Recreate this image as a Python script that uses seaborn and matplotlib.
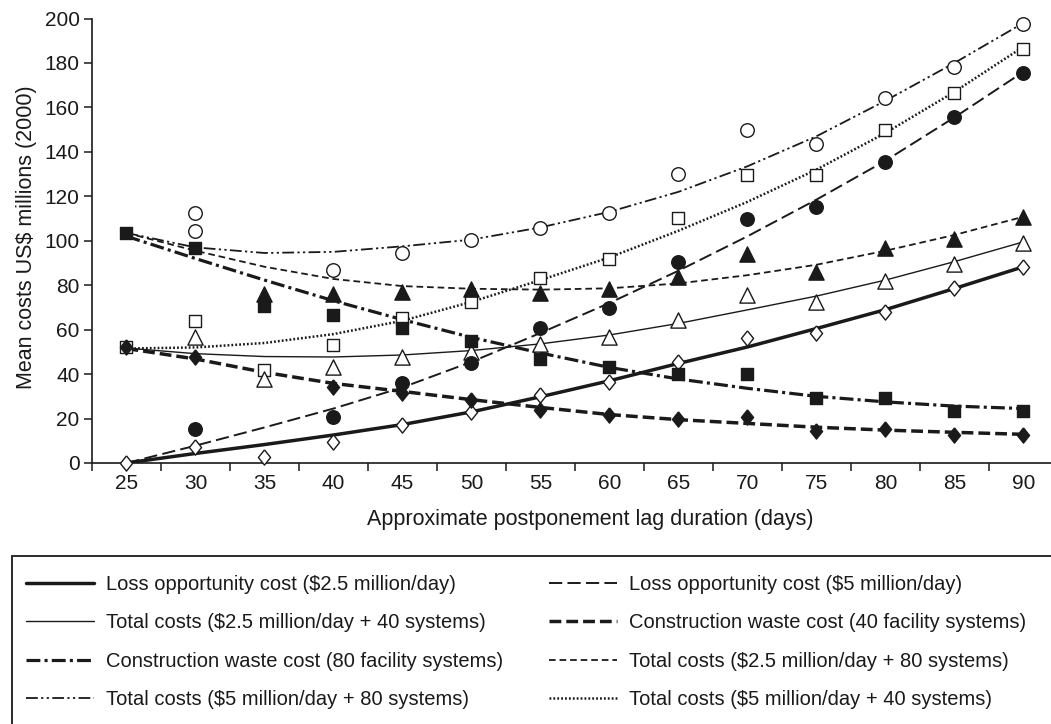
import numpy as np
import matplotlib
matplotlib.use("Agg")
import matplotlib.pyplot as plt
import seaborn as sns
from matplotlib.lines import Line2D
from matplotlib.patches import Rectangle

nan = np.nan

# ---------------- data ----------------
days = [25, 30, 35, 40, 45, 50, 55, 60, 65, 70, 75, 80, 85, 90]

# observed points (markers)
loss25_pts     = [0, 7.3, 2.8, 9.6, 17.1, 23.1, 30.6, 36.3, 45.6, 56.1, 58.3, 68.1, 78.6, 88.3]
loss5_pts      = [nan, 15.2, nan, 20.8, 36.0, 45.1, 60.6, 69.9, 90.6, 109.8, 115.3, 135.6, 155.5, 175.6]
total25_40_pts = [nan, 56.8, 37.6, 43.3, 47.8, 50.1, 53.5, 56.5, 64.3, 75.6, 72.3, 82.0, 89.5, 99.1]
waste40_pts    = [52.0, 47.5, nan, 34.0, 31.3, 28.3, 23.8, 21.6, 19.6, 20.8, 14.4, 15.3, 12.6, 12.6]
waste80_pts    = [103.5, 96.6, 70.6, 66.6, 60.6, 55.0, 46.6, 43.0, 40.0, 40.0, 29.1, 29.1, 23.5, 23.5]
total25_80_pts = [nan, nan, 76.0, 76.0, 77.1, 78.1, 76.3, 78.1, 83.8, 94.0, 86.1, 96.9, 100.6, 110.5]
total5_80_pts  = [nan, 104.5, nan, 86.8, 94.3, 100.3, 105.9, 112.3, 130.0, 149.8, 143.5, 164.1, 178.3, 197.4]
total5_80_extra_x = [30]
total5_80_extra_y = [112.3]
total5_40_pts  = [52.0, 64.0, 41.8, 53.1, 65.1, 72.6, 83.4, 91.6, 110.1, 129.6, 129.6, 149.8, 166.6, 186.3]

# trend lines
loss25_fit     = [0, 4.3, 8.3, 12.6, 17.3, 23.0, 29.8, 37.0, 44.8, 52.2, 60.5, 69.0, 78.5, 88.3]
loss5_fit      = [0, 7.8, 16.0, 24.5, 34.0, 45.5, 58.5, 72.0, 86.5, 102.0, 118.5, 136.0, 155.5, 176.0]
total25_40_fit = [51.7, 49.2, 47.9, 47.7, 48.6, 50.6, 53.6, 57.6, 62.8, 68.9, 75.1, 82.3, 90.6, 99.5]
waste40_fit    = [51.5, 46.8, 40.8, 35.8, 32.2, 28.5, 25.0, 21.8, 19.5, 17.8, 16.1, 14.8, 13.8, 12.9]
waste80_fit    = [102.0, 92.0, 82.3, 73.0, 64.5, 56.5, 49.5, 43.0, 37.8, 33.6, 30.0, 27.5, 25.6, 24.5]
total25_80_fit = [103.5, 95.5, 88.3, 82.8, 79.6, 78.4, 78.0, 78.6, 80.8, 84.5, 89.2, 95.5, 102.6, 110.8]
total5_80_fit  = [103.5, 97.0, 94.5, 95.0, 97.5, 100.5, 106.0, 113.0, 122.0, 133.5, 147.0, 163.0, 180.0, 198.0]
total5_40_fit  = [51.5, 52.0, 54.0, 58.0, 64.0, 72.5, 82.3, 92.5, 104.5, 117.5, 132.0, 148.5, 167.0, 187.3]

labels = {
    "loss25": "Loss opportunity cost ($2.5 million/day)",
    "loss5": "Loss opportunity cost ($5 million/day)",
    "total25_40": "Total costs ($2.5 million/day + 40 systems)",
    "waste40": "Construction waste cost (40 facility systems)",
    "waste80": "Construction waste cost (80 facility systems)",
    "total25_80": "Total costs ($2.5 million/day + 80 systems)",
    "total5_80": "Total costs ($5 million/day + 80 systems)",
    "total5_40": "Total costs ($5 million/day + 40 systems)",
}

# ---------------- style ----------------
sns.set_style("ticks")
plt.rcParams["font.family"] = ["Liberation Sans", "DejaVu Sans"]
plt.rcParams["lines.scale_dashes"] = False
INK = "#1a1a1a"

W, H = 1051, 724
fig = plt.figure(figsize=(W / 100, H / 100), dpi=100)
ax = fig.add_axes([92 / W, (H - 463) / H, (W - 92) / W, 444.5 / H])

line_styles = {
    "loss25":     dict(lw=2.5, ls="-"),
    "loss5":      dict(lw=1.4, ls=(0, (9.5, 3.8))),
    "total25_40": dict(lw=1.0, ls="-"),
    "waste40":    dict(lw=2.5, ls=(0, (8.5, 3.6))),
    "waste80":    dict(lw=2.3, ls=(0, (10, 3, 2.2, 3))),
    "total25_80": dict(lw=1.3, ls=(0, (4.8, 2.8))),
    "total5_80":  dict(lw=1.3, ls=(0, (8.5, 2.4, 1.6, 2.4, 1.6, 2.4))),
    "total5_40":  dict(lw=1.8, ls=(0, (1.3, 1.5))),
}

fits = {
    "loss25": loss25_fit, "loss5": loss5_fit, "total25_40": total25_40_fit,
    "waste40": waste40_fit, "waste80": waste80_fit, "total25_80": total25_80_fit,
    "total5_80": total5_80_fit, "total5_40": total5_40_fit,
}

for key, vals in fits.items():
    st = line_styles[key]
    sns.lineplot(x=days, y=vals, ax=ax, color=INK, linewidth=st["lw"],
                 linestyle=st["ls"], errorbar=None, zorder=2, legend=False)

diamond = [(0, 1), (0.8, 0), (0, -1), (-0.8, 0), (0, 1)]

# open markers first, filled on top
marker_specs = [
    (days, total5_80_pts, "o", "white", 95),
    (total5_80_extra_x, total5_80_extra_y, "o", "white", 95),
    (days, total5_40_pts, "s", "white", 85),
    (days, total25_40_pts, "^", "white", 120),
    (days, loss25_pts, diamond, "white", 120),
    (days, loss5_pts, "o", INK, 95),
    (days, total25_80_pts, "^", INK, 120),
    (days, waste80_pts, "s", INK, 85),
    (days, waste40_pts, diamond, INK, 120),
]
for xs, ys, m, fc, s in marker_specs:
    xs_a = np.asarray(xs, float)
    ys_a = np.asarray(ys, float)
    ok = ~np.isnan(ys_a)
    sns.scatterplot(x=xs_a[ok], y=ys_a[ok], ax=ax, marker=m, s=s, color=fc,
                    edgecolor=INK, linewidth=1.0, zorder=3, clip_on=False,
                    legend=False)

# ---------------- axes ----------------
ax.set_xlim(22.5, 92.0)
ax.set_ylim(0, 200)
ax.set_xticks(days)
ax.set_xticklabels([str(d) for d in days])
ax.set_xticks([d - 2.5 for d in days], minor=True)
ax.set_yticks(list(range(0, 201, 20)))
ax.tick_params(axis="x", which="major", length=0, pad=8, labelsize=15, colors=INK)
ax.tick_params(axis="x", which="minor", length=6, width=1.1, color=INK)
ax.tick_params(axis="y", which="major", length=6, width=1.1, pad=3, labelsize=15, colors=INK)
for side in ("top", "right"):
    ax.spines[side].set_visible(False)
for side in ("left", "bottom"):
    ax.spines[side].set_linewidth(1.2)
    ax.spines[side].set_color(INK)

ax.set_xlabel("Approximate postponement lag duration (days)", fontsize=15.5, color=INK)
ax.xaxis.set_label_coords(0.52, -0.104)
ax.set_ylabel("Mean costs US$ millions (2000)", fontsize=15.5, color=INK)
ax.yaxis.set_label_coords(-0.057, 0.508)

# ---------------- legend ----------------
fig.patches.append(Rectangle((12 / W, -0.1), 1.2, (H - 556) / H + 0.1,
                             transform=fig.transFigure, fill=False,
                             edgecolor=INK, linewidth=1.3))

def handle(key):
    st = line_styles[key]
    return Line2D([], [], color=INK, linewidth=st["lw"], linestyle=st["ls"])

col1 = ["loss25", "total25_40", "waste80", "total5_80"]
col2 = ["loss5", "waste40", "total25_80", "total5_40"]
common = dict(loc="upper left", bbox_transform=fig.transFigure, frameon=False,
              fontsize=14.5, handlelength=3.4, handletextpad=0.55,
              labelspacing=0.96, borderpad=0, borderaxespad=0)
for keys, x0 in ((col1, 26), (col2, 549)):
    leg = fig.legend([handle(k) for k in keys], [labels[k] for k in keys],
                     bbox_to_anchor=(x0 / W, 1 - 575 / H), **common)
    for t in leg.get_texts():
        t.set_color(INK)

fig.savefig("out.png", dpi=100)
